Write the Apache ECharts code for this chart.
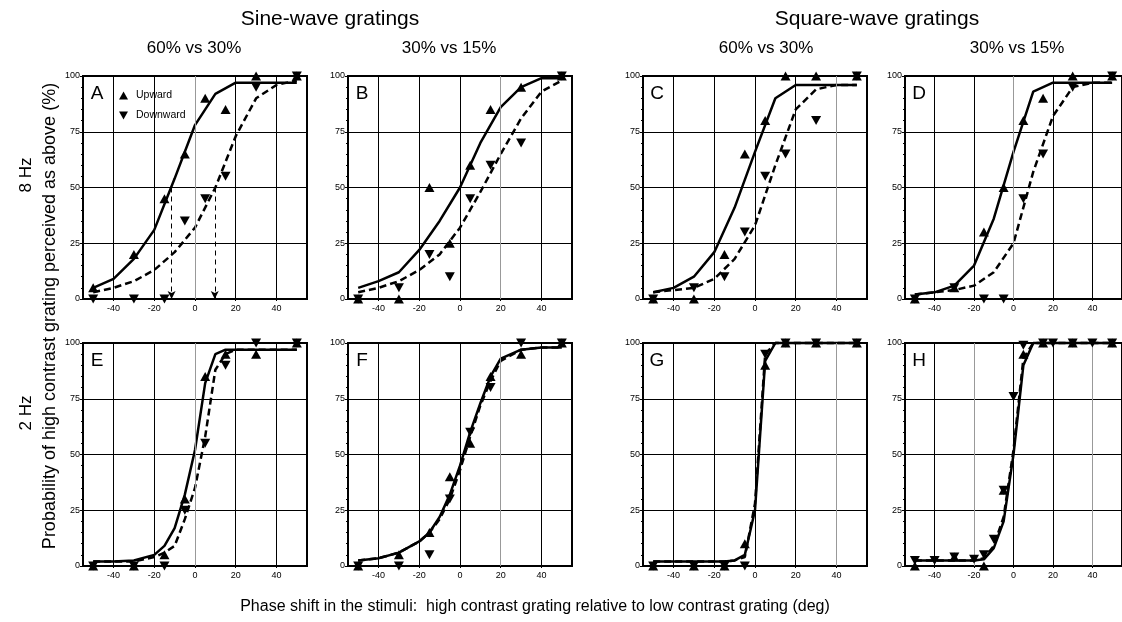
<!DOCTYPE html>
<html>
<head>
<meta charset="utf-8">
<script src="https://cdn.jsdelivr.net/npm/echarts@6/dist/echarts.min.js"></script>
<style>
html, body { margin: 0; padding: 0; background: #fff; }
#main { width: 1122px; height: 622px; }
</style>
</head>
<body>
<div id="main"></div>
<script>
// x positions of the measured points and of the fitted curves
const ptX = [-50, -30, -15, -5, 5, 15, 30, 50];
const fitX8Hz = [-50, -40, -30, -20, -10, 0, 10, 20, 30, 40, 50];
const fitX2Hz = [-50, -40, -30, -20, -15, -10, -5, 0, 5, 10, 15, 20, 30, 40, 50];
const xTicks = [-40, -20, 0, 20, 40];

// 8 Hz, sine 60% vs 30%
const aUp = [5, 20, 45, 65, 90, 85, 100, 100];
const aDown = [0, 0, 0, 35, 45, 55, 95, 100];
const aSolid = [5, 9, 18, 31, 54, 78, 92, 97, 97, 97, 97];
const aDashed = [3, 5, 8, 13, 21, 32, 50, 73, 90, 96, 98];
const aHalfPoints = [-11.5, 9.7];
// 8 Hz, sine 30% vs 15%
const bUp = [0, 0, 50, 25, 60, 85, 95, 100];
const bDown = [0, 5, 20, 10, 45, 60, 70, 100];
const bSolid = [5, 8, 12, 22, 35, 50, 70, 86, 95, 99, 99];
const bDashed = [3, 5, 8, 13, 20, 32, 48, 65, 81, 93, 98];
// 8 Hz, square 60% vs 30%
const cUp = [0, 0, 20, 65, 80, 100, 100, 100];
const cDown = [0, 5, 10, 30, 55, 65, 80, 100];
const cSolid = [3, 5, 10, 21, 41, 66, 90, 96, 96, 96, 96];
const cDashed = [3, 4, 5, 9, 18, 33, 60, 85, 94, 96, 96];
// 8 Hz, square 30% vs 15%
const dUp = [0, 5, 30, 50, 80, 90, 100, 100];
const dDown = [0, 5, 0, 0, 45, 65, 95, 100];
const dSolid = [2, 3, 6, 15, 36, 66, 93, 97, 97, 97, 97];
const dDashed = [2, 3, 4, 6, 12, 25, 57, 82, 95, 97, 97];
// 2 Hz, sine 60% vs 30%
const eUp = [0, 0, 5, 30, 85, 95, 95, 100];
const eDown = [0, 0, 0, 25, 55, 90, 100, 100];
const eSolid = [2, 2, 2.5, 5, 9, 17, 32, 52, 82, 95, 97, 97, 97, 97, 97];
const eDashed = [2, 2, 2, 4, 6, 9, 21, 35, 58, 88, 95, 97, 97, 97, 97];
// 2 Hz, sine 30% vs 15%
const fUp = [0, 5, 15, 40, 55, 85, 95, 100];
const fDown = [0, 0, 5, 30, 60, 80, 100, 100];
const fSolid = [2.5, 3.5, 6, 11, 15, 22, 32, 45, 60, 73, 85, 93, 97, 98, 98];
const fDashed = [2.5, 3.5, 6, 11, 15, 21, 30, 43, 58, 72, 83, 92, 97, 98, 98];
// 2 Hz, square 60% vs 30%
const gUp = [0, 0, 0, 10, 90, 100, 100, 100];
const gDown = [0, 0, 0, 0, 95, 100, 100, 100];
const gSolid = [2, 2, 2, 2, 2, 2.5, 5, 25, 92, 100, 100, 100, 100, 100, 100];
const gDashed = [2, 2, 2, 2, 2, 2.5, 4, 28, 95, 100, 100, 100, 100, 100, 100];
// 2 Hz, square 30% vs 15%
const hUpX = [-50, -30, -15, -5, 5, 15, 30, 50];
const hUp = [0, 4, 0, 34, 95, 100, 100, 100];
const hDownX = [-50, -40, -30, -20, -15, -10, -5, 0, 5, 15, 20, 30, 40, 50];
const hDown = [2.5, 2.5, 4, 3, 5, 12, 34, 76, 99, 100, 100, 100, 100, 100];
const hSolid = [2.5, 2.5, 2.5, 2.5, 3, 8, 20, 50, 90, 100, 100, 100, 100, 100, 100];
const hDashed = [2.5, 2.5, 2.5, 2.5, 3.5, 9, 22, 52, 93, 100, 100, 100, 100, 100, 100];

const letters = ['A', 'B', 'C', 'D', 'E', 'F', 'G', 'H'];
const panels = [
  { upX: ptX, up: aUp, downX: ptX, down: aDown, fitX: fitX8Hz, solid: aSolid, dashed: aDashed },
  { upX: ptX, up: bUp, downX: ptX, down: bDown, fitX: fitX8Hz, solid: bSolid, dashed: bDashed },
  { upX: ptX, up: cUp, downX: ptX, down: cDown, fitX: fitX8Hz, solid: cSolid, dashed: cDashed },
  { upX: ptX, up: dUp, downX: ptX, down: dDown, fitX: fitX8Hz, solid: dSolid, dashed: dDashed },
  { upX: ptX, up: eUp, downX: ptX, down: eDown, fitX: fitX2Hz, solid: eSolid, dashed: eDashed },
  { upX: ptX, up: fUp, downX: ptX, down: fDown, fitX: fitX2Hz, solid: fSolid, dashed: fDashed },
  { upX: ptX, up: gUp, downX: ptX, down: gDown, fitX: fitX2Hz, solid: gSolid, dashed: gDashed },
  { upX: hUpX, up: hUp, downX: hDownX, down: hDown, fitX: fitX2Hz, solid: hSolid, dashed: hDashed }
];

const colLeft = [83, 348, 643, 905];
const rowTop = [76, 343];
const plotW = 224, plotH = 223;
// a few of the vertical grid lines print grey in the original
const greyLines = [[0], [20], [40], [0], [0], [20], [40], [-20, 40]];
const FONT = '"Liberation Sans", Arial, Helvetica, sans-serif';

const zip = (xs, ys) => xs.map((x, k) => [x, ys[k]]);

let grids = [], xAxes = [], yAxes = [], series = [];
panels.forEach((p, i) => {
  const left = colLeft[i % 4], top = rowTop[i < 4 ? 0 : 1];
  grids.push({ left: left, top: top, width: plotW, height: plotH, show: true,
    borderColor: '#000', borderWidth: 2, backgroundColor: 'transparent' });
  xAxes.push({
    type: 'value', gridIndex: i, min: -55, max: 55,
    axisLine: { show: true, onZero: false, lineStyle: { color: '#000', width: 2 } },
    axisTick: { show: true, customValues: xTicks, length: 2, lineStyle: { color: '#000' } },
    axisLabel: { customValues: xTicks, fontSize: 9, color: '#000', margin: 5, fontFamily: FONT },
    splitLine: { show: false }
  });
  yAxes.push({
    type: 'value', gridIndex: i, min: 0, max: 100, interval: 25,
    axisLine: { show: true, onZero: false, lineStyle: { color: '#000', width: 2 } },
    axisTick: { show: true, length: 3, lineStyle: { color: '#000' } },
    minorTick: { show: true, splitNumber: 5, length: 2, lineStyle: { color: '#000' } },
    axisLabel: { fontSize: 9, color: '#000', margin: 3, fontFamily: FONT },
    splitLine: { show: true, lineStyle: { color: '#000', width: 1 } }
  });
  // vertical grid lines
  series.push({
    type: 'scatter', xAxisIndex: i, yAxisIndex: i, data: [], silent: true, z: 1,
    markLine: {
      silent: true, symbol: 'none', animation: false, label: { show: false },
      data: xTicks.map(v => ({ xAxis: v, lineStyle: {
        color: greyLines[i].includes(v) ? '#999' : '#000', width: 1, type: 'solid' } }))
    }
  });
  series.push({
    type: 'line', xAxisIndex: i, yAxisIndex: i, data: zip(p.fitX, p.solid),
    symbol: 'none', clip: false, silent: true, z: 3,
    lineStyle: { color: '#000', width: 2.5 }
  });
  series.push({
    type: 'line', xAxisIndex: i, yAxisIndex: i, data: zip(p.fitX, p.dashed),
    symbol: 'none', clip: false, silent: true, z: 3,
    lineStyle: { color: '#000', width: 2.5, type: [7, 4] }
  });
  series.push({
    name: 'Upward', type: 'scatter', xAxisIndex: i, yAxisIndex: i, data: zip(p.upX, p.up),
    symbol: 'triangle', symbolSize: [10, 9], clip: false, z: 5,
    itemStyle: { color: '#000', opacity: 1 }
  });
  series.push({
    name: 'Downward', type: 'scatter', xAxisIndex: i, yAxisIndex: i, data: zip(p.downX, p.down),
    symbol: 'triangle', symbolRotate: 180, symbolSize: [10, 9], clip: false, z: 5,
    itemStyle: { color: '#000', opacity: 1 }
  });
});

// dashed arrows from the 50% points in panel A
series.push({
  type: 'scatter', xAxisIndex: 0, yAxisIndex: 0, data: [], silent: true, z: 4,
  markLine: {
    silent: true, animation: false, symbol: ['none', 'arrow'], symbolSize: [6, 8],
    label: { show: false },
    lineStyle: { color: '#000', width: 1, type: [5, 4] },
    data: aHalfPoints.map(v => [{ coord: [v, 50] }, { coord: [v, 0] }])
  }
});

const txt = (text, x, y, size, rot) => ({
  type: 'text', x: x, y: y, rotation: rot || 0, silent: true,
  style: { text: text, font: size + 'px ' + FONT, fill: '#000',
    textAlign: 'center', textVerticalAlign: 'middle' }
});

let graphics = [
  txt('Sine-wave gratings', 330, 19, 21),
  txt('Square-wave gratings', 877, 19, 21),
  txt('60% vs 30%', 194, 48, 17),
  txt('30% vs 15%', 449, 48, 17),
  txt('60% vs 30%', 766, 48, 17),
  txt('30% vs 15%', 1017, 48, 17),
  txt('8 Hz', 26, 175, 17, Math.PI / 2),
  txt('2 Hz', 26, 413, 17, Math.PI / 2),
  txt('Probability of high contrast grating perceived as above (%)', 50, 316, 18, Math.PI / 2),
  txt('Phase shift in the stimuli:  high contrast grating relative to low contrast grating (deg)', 535, 607, 16)
];
letters.forEach((l, i) => {
  graphics.push(txt(l, colLeft[i % 4] + 14, rowTop[i < 4 ? 0 : 1] + 18, 19));
});

const myChart = echarts.init(document.getElementById('main'), null, { renderer: 'canvas' });
myChart.setOption({
  animation: false,
  backgroundColor: '#fff',
  textStyle: { fontFamily: FONT },
  legend: {
    left: 114, top: 85, orient: 'vertical', itemWidth: 9, itemHeight: 8, itemGap: 9,
    selectedMode: false,
    textStyle: { fontSize: 10.5, color: '#000', fontFamily: FONT, padding: [0, 0, 0, 3] },
    data: [
      { name: 'Upward', icon: 'triangle' },
      { name: 'Downward', icon: 'path://M0,0L10,0L5,9Z' }
    ]
  },
  grid: grids,
  xAxis: xAxes,
  yAxis: yAxes,
  series: series,
  graphic: graphics
});
</script>
</body>
</html>
